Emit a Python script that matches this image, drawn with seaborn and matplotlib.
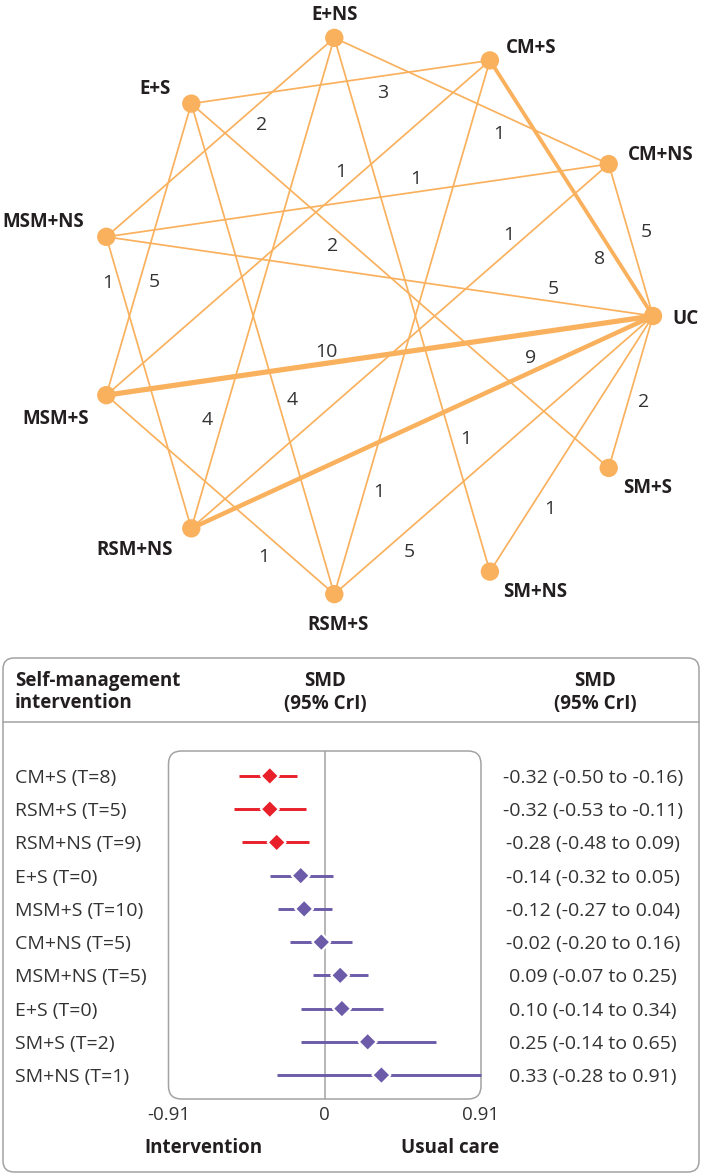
import matplotlib

matplotlib.use("Agg")
import matplotlib.pyplot as plt
import matplotlib.transforms as mtransforms
import numpy as np
import pandas as pd
import seaborn as sns
from matplotlib.patches import FancyBboxPatch

# ---- network data ----
NODES = ["UC", "CM+NS", "CM+S", "E+NS", "E+S", "MSM+NS", "MSM+S", "RSM+NS", "RSM+S", "SM+NS", "SM+S"]
EDGE_FROM = ["E+NS", "E+NS", "E+NS", "E+NS", "E+S", "E+S", "E+S", "E+S", "CM+S", "CM+S", "CM+S",
             "CM+NS", "CM+NS", "CM+NS", "MSM+NS", "MSM+NS", "MSM+S", "MSM+S", "RSM+NS", "RSM+S", "SM+NS", "SM+S"]
EDGE_TO = ["MSM+NS", "RSM+NS", "SM+NS", "CM+NS", "CM+S", "MSM+S", "RSM+S", "SM+S", "UC", "MSM+S", "RSM+S",
           "MSM+NS", "UC", "RSM+NS", "UC", "RSM+NS", "UC", "RSM+S", "UC", "UC", "UC", "UC"]
EDGE_TRIALS = [2, 4, 1, 1, 3, 5, 4, 2, 8, 1, 1, 1, 5, 1, 5, 1, 10, 1, 9, 5, 1, 2]

# ---- forest data ----
ROW_LABELS = ["CM+S (T=8)", "RSM+S (T=5)", "RSM+NS (T=9)", "E+S (T=0)", "MSM+S (T=10)",
              "CM+NS (T=5)", "MSM+NS (T=5)", "E+S (T=0)", "SM+S (T=2)", "SM+NS (T=1)"]
SMD = [-0.32, -0.32, -0.28, -0.14, -0.12, -0.02, 0.09, 0.10, 0.25, 0.33]
CI_LOW = [-0.50, -0.53, -0.48, -0.32, -0.27, -0.20, -0.07, -0.14, -0.14, -0.28]
CI_HIGH = [-0.16, -0.11, -0.09, 0.05, 0.04, 0.16, 0.25, 0.34, 0.65, 0.91]
CI_TEXT = ["-0.32 (-0.50 to -0.16)", "-0.32 (-0.53 to -0.11)", "-0.28 (-0.48 to 0.09)",
           "-0.14 (-0.32 to 0.05)", "-0.12 (-0.27 to 0.04)", "-0.02 (-0.20 to 0.16)",
           "0.09 (-0.07 to 0.25)", "0.10 (-0.14 to 0.34)", "0.25 (-0.14 to 0.65)",
           "0.33 (-0.28 to 0.91)"]
X_TICKS = [-0.91, 0, 0.91]
X_TICK_LABELS = ["-0.91", "0", "0.91"]

# ---- layout / style ----
W, H = 702, 1174
CX, CY, RX, RY = 374, 316, 279, 281
NODE_LABEL_DX = [33, 52, 41, 0, -36, -63, -51, -57, 4, 45, 39]
NODE_LABEL_DY = [0, -12, -15, -25, -17, -17, 21, 19, 28, 18, 18]
EDGE_LABEL_T = [0.366, 0.783, 0.755, 0.624, 0.634, 0.591, 0.608, 0.359, 0.740, 0.362, 0.797,
                0.380, 0.465, 0.218, 0.813, 0.141, 0.406, 0.738, 0.748, 0.202, 0.285, 0.476]
EDGE_LABEL_OFF = [-16.8, 15.8, -14.4, 16.9, 15.2, -14.1, -14.3, 12.4, 13.5, 15.0, -13.7,
                  14.5, -17.2, 13.8, -14.8, 11.2, -13.2, 16.7, -15.2, 15.9, 15.7, 14.7]
ORANGE = "#F9B15E"
RED = "#E8202A"
PURPLE = "#6C5BA9"
INK = "#231F20"
GREY = "#A3A3A3"


def edge_width(n):
    # thin for small trial counts, heavier only for the big comparisons
    return 1.25 + 0.5 * max(n - 5, 0)


sns.set_theme(style="white")
plt.rcParams["font.family"] = ["Open Sans", "DejaVu Sans"]
plt.rcParams["axes.unicode_minus"] = False

fig = plt.figure(figsize=(W / 100, H / 100), dpi=100)
bg = fig.add_axes([0, 0, 1, 1])

# network
angles = np.arange(len(NODES)) * 2 * np.pi / len(NODES)
pos = {n: (CX + RX * np.cos(a), CY - RY * np.sin(a)) for n, a in zip(NODES, angles)}

for src, dst, n, t, off in zip(EDGE_FROM, EDGE_TO, EDGE_TRIALS, EDGE_LABEL_T, EDGE_LABEL_OFF):
    x0, y0 = pos[src]
    x1, y1 = pos[dst]
    bg.plot([x0, x1], [y0, y1], color=ORANGE, lw=edge_width(n), solid_capstyle="butt", zorder=1)
    vx, vy = x1 - x0, y1 - y0
    length = np.hypot(vx, vy)
    lx = x0 + t * vx - off * vy / length
    ly = y0 + t * vy + off * vx / length
    bg.text(lx, ly, str(n), ha="center", va="center_baseline", fontsize=14, color="#333333", zorder=2)

node_df = pd.DataFrame({"node": NODES,
                        "x": [pos[n][0] for n in NODES],
                        "y": [pos[n][1] for n in NODES]})
sns.scatterplot(data=node_df, x="x", y="y", s=175, color=ORANGE, edgecolor="none", ax=bg,
                zorder=3, legend=False)
for (_, row), dx, dy in zip(node_df.iterrows(), NODE_LABEL_DX, NODE_LABEL_DY):
    bg.text(row["x"] + dx, row["y"] + dy, row["node"], ha="center", va="center_baseline",
            fontsize=13.5, fontweight="bold", color=INK, zorder=4)

# frames and header
bg.add_patch(FancyBboxPatch((3, 658), 696, 514, boxstyle="round,pad=0,rounding_size=11",
                            fc="none", ec=GREY, lw=1.1))
bg.plot([3, 699], [722, 722], color=GREY, lw=1.1)
bg.add_patch(FancyBboxPatch((168.5, 751), 312.5, 348, boxstyle="round,pad=0,rounding_size=13",
                            fc="none", ec=GREY, lw=1.1))

hdr = dict(fontsize=13.5, fontweight="bold", color=INK, va="baseline")
bg.text(15, 686, "Self-management", ha="left", **hdr)
bg.text(15, 708.5, "intervention", ha="left", **hdr)
bg.text(325, 686, "SMD", ha="center", **hdr)
bg.text(325, 708.5, "(95% CrI)", ha="center", **hdr)
bg.text(595, 686, "SMD", ha="center", **hdr)
bg.text(595, 708.5, "(95% CrI)", ha="center", **hdr)
bg.text(144, 1153, "Intervention", ha="left", **hdr)
bg.text(499, 1153, "Usual care", ha="right", **hdr)

bg.set_xlim(0, W)
bg.set_ylim(H, 0)
bg.axis("off")

# forest plot
forest = pd.DataFrame({"label": ROW_LABELS, "smd": SMD, "lo": CI_LOW, "hi": CI_HIGH, "text": CI_TEXT})
forest["row"] = np.arange(len(forest))
forest["group"] = np.where(forest["hi"] < 0, "favours", "none")
palette = {"favours": RED, "none": PURPLE}

fx0, fx1, fy0, fy1 = 168.5, 481, 751, 1099
fax = fig.add_axes([fx0 / W, 1 - fy1 / H, (fx1 - fx0) / W, (fy1 - fy0) / H])
fax.patch.set_alpha(0)
fax.axvline(0, color=GREY, lw=1.1, zorder=0)
for _, row in forest.iterrows():
    fax.hlines(row["row"], row["lo"], row["hi"], color=palette[row["group"]], lw=2.1, zorder=1,
               clip_on=False)
sns.scatterplot(data=forest, x="smd", y="row", hue="group", palette=palette, marker="D", s=85,
                edgecolor="white", linewidth=1.5, legend=False, ax=fax, zorder=2, clip_on=False)
fax.set_xlim(-0.91, 0.91)
fax.set_ylim(len(forest) - 0.28, -0.75)
fax.set_xticks(X_TICKS)
fax.set_xticklabels(X_TICK_LABELS)
fax.set_yticks([])
fax.set_xlabel("")
fax.set_ylabel("")
fax.tick_params(axis="x", length=0, pad=5, labelsize=13.5, labelcolor="#333333")
for sp in fax.spines.values():
    sp.set_visible(False)

row_tr = mtransforms.blended_transform_factory(bg.transData, fax.transData)
for _, row in forest.iterrows():
    bg.text(15, row["row"], row["label"], transform=row_tr, ha="left", va="center_baseline",
            fontsize=14, color="#333333")
    bg.text(593, row["row"], row["text"], transform=row_tr, ha="center", va="center_baseline",
            fontsize=14, color="#333333")

fig.savefig("out.png", dpi=100)
